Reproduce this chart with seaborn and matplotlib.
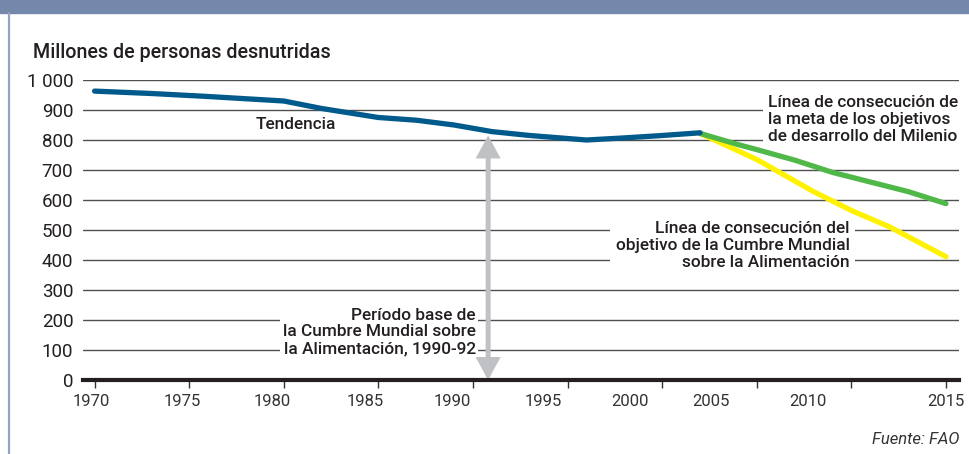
import matplotlib
matplotlib.use("Agg")
import matplotlib.pyplot as plt
from matplotlib.patches import Rectangle, FancyArrowPatch
from matplotlib.lines import Line2D
import seaborn as sns
import pandas as pd

# ---------------- data ----------------
trend_years = [1970, 1973, 1976, 1980, 1982, 1983.3, 1985, 1987, 1989, 1991, 1993, 1994, 1996, 1998, 2000, 2002]
trend_vals = [963, 955, 945, 930, 905, 892, 875, 866, 850, 828, 815, 810, 800, 807, 815, 824]

mdg_years = [2002, 2004, 2005, 2007, 2009, 2011, 2013, 2015]
mdg_vals = [822, 785, 768, 733, 692, 660, 628, 588]

wfs_years = [2002, 2005, 2008, 2010, 2012, 2015]
wfs_vals = [822, 735, 628, 565, 511, 411]

y_ticks = [0, 100, 200, 300, 400, 500, 600, 700, 800, 900, 1000]
y_labels = ["0", "100", "200", "300", "400", "500", "600", "700", "800", "900", "1 000"]
x_ticks = [1970, 1975, 1980, 1985, 1990, 1995, 2000, 2005, 2010, 2015]
x_labels = ["1970", "1975", "1980", "1985", "1990", "1995", "2000", "2005", "2010", "2015"]
# where the original chart prints its year labels (they drift from the ticks)
x_label_pos = [1969.85, 1974.65, 1979.4, 1984.3, 1988.9, 1993.7, 1998.3, 2002.6, 2007.7, 2015.0]

base_year = 1990.8
base_top = 815

title = "Millones de personas desnutridas"
source = "Fuente: FAO"
txt_trend = "Tendencia"
txt_mdg = "Línea de consecución de\nla meta de los objetivos\nde desarrollo del Milenio"
txt_wfs = "Línea de consecución del\nobjetivo de la Cumbre Mundial\nsobre la Alimentación"
txt_base = "Período base de\nla Cumbre Mundial sobre\nla Alimentación, 1990-92"

# ---------------- style ----------------
sns.set_theme(style="white")
plt.rcParams["font.family"] = ["Roboto", "DejaVu Sans"]
TXT = "#231f20"
BLUE = "#005a8b"
GREEN = "#50b848"
YELLOW = "#fff200"
GREY_ARROW = "#c0c1c5"

fig = plt.figure(figsize=(9.69, 4.54), dpi=100)
W, H = 969, 454
ax = fig.add_axes([83 / W, 1 - 380 / H, (959 - 83) / W, 300 / H])

# top band and left rule
fig.patches.append(Rectangle((0, 1 - 13 / H), 1, 13 / H, transform=fig.transFigure,
                             color="#7388ab", zorder=0))
fig.lines.append(Line2D([9 / W, 9 / W], [0, 1 - 13 / H], transform=fig.transFigure,
                        color="#91a5c7", lw=1.6))

df_t = pd.DataFrame({"year": trend_years, "val": trend_vals})
df_m = pd.DataFrame({"year": mdg_years, "val": mdg_vals})
df_w = pd.DataFrame({"year": wfs_years, "val": wfs_vals})

lw = 3.8
sns.lineplot(data=df_w, x="year", y="val", ax=ax, color=YELLOW, lw=lw, sort=False,
             estimator=None, zorder=3, solid_capstyle="round")
sns.lineplot(data=df_m, x="year", y="val", ax=ax, color=GREEN, lw=lw, sort=False,
             estimator=None, zorder=4, solid_capstyle="round")
sns.lineplot(data=df_t, x="year", y="val", ax=ax, color=BLUE, lw=lw, sort=False,
             estimator=None, zorder=5, solid_capstyle="round")

x0 = 1970 - (94.6 - 83) / 18.92
x1 = 1970 + (959 - 94.6) / 18.92
ax.set_xlim(x0, x1)
ax.set_ylim(0, 1000)
ax.set_xlabel("")
ax.set_ylabel("")

ax.set_yticks(y_ticks, labels=y_labels)
ax.tick_params(axis="y", length=0, pad=7, labelsize=13.5, labelcolor=TXT)

ax.xaxis.remove_overlapping_locs = False
ax.set_xticks(x_ticks, labels=[""] * len(x_ticks))
ax.set_xticks(x_label_pos, labels=x_labels, minor=True)
ax.tick_params(axis="x", which="major", direction="out", length=6, width=1, color="#333333",
               bottom=True)
ax.tick_params(axis="x", which="minor", length=0, pad=10, labelsize=12, labelcolor="#333333")

ax.set_axisbelow(True)
ax.yaxis.grid(True, color="#505050", lw=1)
ax.xaxis.grid(False)
for s in ["left", "right", "top"]:
    ax.spines[s].set_visible(False)
ax.spines["bottom"].set_color(TXT)
ax.spines["bottom"].set_linewidth(3)
ax.spines["bottom"].set_zorder(6)

# double-headed arrow for the base period
arr = FancyArrowPatch((base_year, 0), (base_year, base_top),
                      arrowstyle="<|-|>,head_length=1.1,head_width=0.6",
                      mutation_scale=10, color=GREY_ARROW, lw=3.6,
                      shrinkA=0, shrinkB=0, zorder=2.6, joinstyle="miter")
ax.add_patch(arr)

fs = 12.4
fw = "medium"
ls = 1.15
box = dict(boxstyle="square,pad=0.3", fc="white", ec="none")
ax.text(1980.65, 850, txt_trend, ha="center", va="center", fontsize=fs, color=TXT,
        fontweight=fw, zorder=2.5)
ax.text(2005.6, 868, txt_mdg, ha="left", va="center", fontsize=fs, color=TXT,
        fontweight=fw, linespacing=ls, bbox=box, zorder=2.5)
ax.text(2009.9, 448, txt_wfs, ha="right", va="center", fontsize=fs, color=TXT,
        fontweight=fw, linespacing=ls, bbox=box, zorder=2.5)
ax.text(1990.15, 160, txt_base, ha="right", va="center", fontsize=fs, color=TXT,
        fontweight=fw, linespacing=ls,
        bbox=dict(boxstyle="square,pad=0.15", fc="white", ec="none"), zorder=2.5)

fig.text(33 / W, 1 - 52 / H, title, ha="left", va="center", fontsize=14.2, color=TXT,
         fontweight=fw)
fig.text(960 / W, 1 - 440 / H, source, ha="right", va="center", fontsize=12,
         style="italic", color="#333333")

fig.savefig("out.png", dpi=100)
